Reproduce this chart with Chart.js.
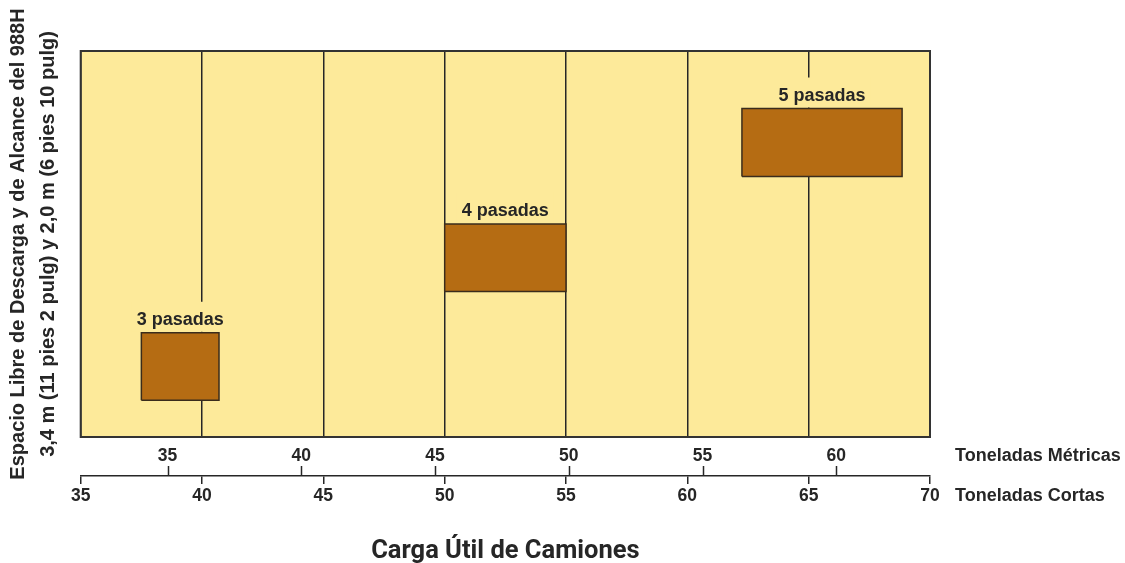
<!DOCTYPE html>
<html>
<head>
<meta charset="utf-8">
<script src="https://cdn.jsdelivr.net/npm/chart.js@4"></script>
<style>
  html, body { margin: 0; padding: 0; background: #fff; }
  #wrap { width: 1125px; height: 563px; }
</style>
</head>
<body>
<div id="wrap"><canvas id="payloadChart"></canvas></div>
<script>
// Pasadas por carga util (toneladas cortas) y altura relativa (0-100)
const passLabels = ['3 pasadas', '4 pasadas', '5 pasadas'];
const payloadFrom = [37.5, 50, 62.25];
const payloadTo = [40.7, 55, 68.85];
const clearanceLow = [9.5, 37.7, 67.5];
const clearanceHigh = [27, 55.2, 85.1];
const shortTicks = [35, 40, 45, 50, 55, 60, 65, 70];
const metricTicks = [35, 40, 45, 50, 55, 60];
const SHORT_TO_METRIC = 0.907185;

const plotYellow = '#fdea9a';
const boxBrown = '#b56c13';
const ink = '#262626';
const labelFont = "bold 18px 'Liberation Sans', Arial, sans-serif";

Chart.defaults.font.family = "'Liberation Sans', Arial, sans-serif";
Chart.defaults.color = ink;

document.addEventListener('DOMContentLoaded', function () {
    const boxSets = passLabels.map(function (label, i) {
        return {
            label: label,
            xAxisID: 'x',
            yAxisID: 'y',
            data: [
                { x: payloadFrom[i], y: clearanceLow[i] },
                { x: payloadTo[i], y: clearanceLow[i] },
                { x: payloadTo[i], y: clearanceHigh[i] },
                { x: payloadFrom[i], y: clearanceHigh[i] },
                { x: payloadFrom[i], y: clearanceLow[i] }
            ],
            showLine: true,
            fill: 'shape',
            backgroundColor: boxBrown,
            borderColor: '#3a2c1c',
            borderWidth: 1.5,
            borderJoinStyle: 'miter',
            pointRadius: 0,
            tension: 0
        };
    });

    // background, label patches, frame, metric ticks, axis names
    const chartDecor = {
        id: 'chartDecor',
        beforeDraw(chart) {
            const a = chart.chartArea;
            const ctx = chart.ctx;
            ctx.save();
            ctx.fillStyle = plotYellow;
            ctx.fillRect(a.left, a.top, a.right - a.left, a.bottom - a.top);
            ctx.restore();
        },
        beforeDatasetsDraw(chart) {
            const ctx = chart.ctx;
            const xs = chart.scales.x, ys = chart.scales.y;
            ctx.save();
            ctx.font = labelFont;
            ctx.fillStyle = plotYellow;
            passLabels.forEach(function (label, i) {
                const cx = xs.getPixelForValue((payloadFrom[i] + payloadTo[i]) / 2);
                const top = ys.getPixelForValue(clearanceHigh[i]);
                const w = ctx.measureText(label).width + 10;
                ctx.fillRect(cx - w / 2, top - 31, w, 30);
            });
            ctx.restore();
        },
        afterDatasetsDraw(chart) {
            const a = chart.chartArea;
            const ctx = chart.ctx;
            const xs = chart.scales.x, ys = chart.scales.y;
            ctx.save();
            ctx.strokeStyle = '#333';
            ctx.lineWidth = 2;
            ctx.strokeRect(a.left, a.top, a.right - a.left, a.bottom - a.top);
            ctx.font = labelFont;
            ctx.fillStyle = ink;
            ctx.textAlign = 'center';
            ctx.textBaseline = 'alphabetic';
            passLabels.forEach(function (label, i) {
                const cx = xs.getPixelForValue((payloadFrom[i] + payloadTo[i]) / 2);
                const top = ys.getPixelForValue(clearanceHigh[i]);
                ctx.fillText(label, cx, top - 8);
            });
            ctx.restore();
        },
        afterDraw(chart) {
            const ctx = chart.ctx;
            const xs = chart.scales.x, xm = chart.scales.xMetric;
            ctx.save();
            ctx.strokeStyle = ink;
            ctx.lineWidth = 1.5;
            metricTicks.forEach(function (v) {
                const px = Math.round(xm.getPixelForValue(v)) + 0.5;
                ctx.beginPath();
                ctx.moveTo(px, xs.top);
                ctx.lineTo(px, xs.top - 10);
                ctx.stroke();
            });
            ctx.font = labelFont;
            ctx.fillStyle = ink;
            ctx.textAlign = 'left';
            ctx.textBaseline = 'middle';
            ctx.fillText('Toneladas Métricas', 955, xm.top + 9 + 10.5);
            ctx.fillText('Toneladas Cortas', 955, xs.top + 10 + 10.5);
            ctx.restore();
        }
    };

    const ctx = document.getElementById('payloadChart').getContext('2d');
    new Chart(ctx, {
        type: 'scatter',
        data: { datasets: boxSets },
        plugins: [chartDecor],
        options: {
            responsive: true,
            maintainAspectRatio: false,
            animation: false,
            layout: { padding: { top: 51, right: 195, bottom: 0, left: 0 } },
            plugins: {
                legend: { display: false },
                tooltip: { enabled: false }
            },
            scales: {
                x: {
                    type: 'linear',
                    position: 'bottom',
                    weight: 1,
                    min: shortTicks[0],
                    max: shortTicks[shortTicks.length - 1],
                    afterBuildTicks: function (s) { s.ticks = shortTicks.map(v => ({ value: v })); },
                    afterFit: function (s) { s.height = 87; },
                    grid: {
                        color: ink,
                        lineWidth: 1.5,
                        drawTicks: true,
                        tickLength: 8
                    },
                    border: { display: true, color: ink, width: 1.5 },
                    ticks: {
                        padding: 2,
                        color: ink,
                        maxRotation: 0,
                        font: { size: 17.5, weight: 'bold' }
                    },
                    title: {
                        display: true,
                        text: 'Carga Útil de Camiones',
                        color: ink,
                        font: { family: 'Roboto', size: 25.5, weight: 'bold' },
                        padding: { top: 0, bottom: -4 }
                    }
                },
                xMetric: {
                    axis: 'x',
                    type: 'linear',
                    position: 'bottom',
                    weight: 0,
                    min: shortTicks[0] * SHORT_TO_METRIC,
                    max: shortTicks[shortTicks.length - 1] * SHORT_TO_METRIC,
                    afterBuildTicks: function (s) { s.ticks = metricTicks.map(v => ({ value: v })); },
                    afterFit: function (s) { s.height = 39; },
                    grid: { display: false, drawTicks: false },
                    border: { display: false },
                    ticks: {
                        padding: 9,
                        color: ink,
                        maxRotation: 0,
                        font: { size: 17.5, weight: 'bold' }
                    }
                },
                y: {
                    type: 'linear',
                    min: 0,
                    max: 100,
                    grid: { display: false, drawTicks: false },
                    border: { display: false },
                    ticks: { display: false },
                    title: {
                        display: true,
                        text: ['Espacio Libre de Descarga y de Alcance del 988H',
                               '3,4 m (11 pies 2 pulg) y 2,0 m (6 pies 10 pulg)'],
                        color: ink,
                        font: { size: 20, weight: 'bold', lineHeight: 1.5 },
                        padding: { top: 3, bottom: 17.7 }
                    }
                }
            }
        }
    });
});
</script>
</body>
</html>
